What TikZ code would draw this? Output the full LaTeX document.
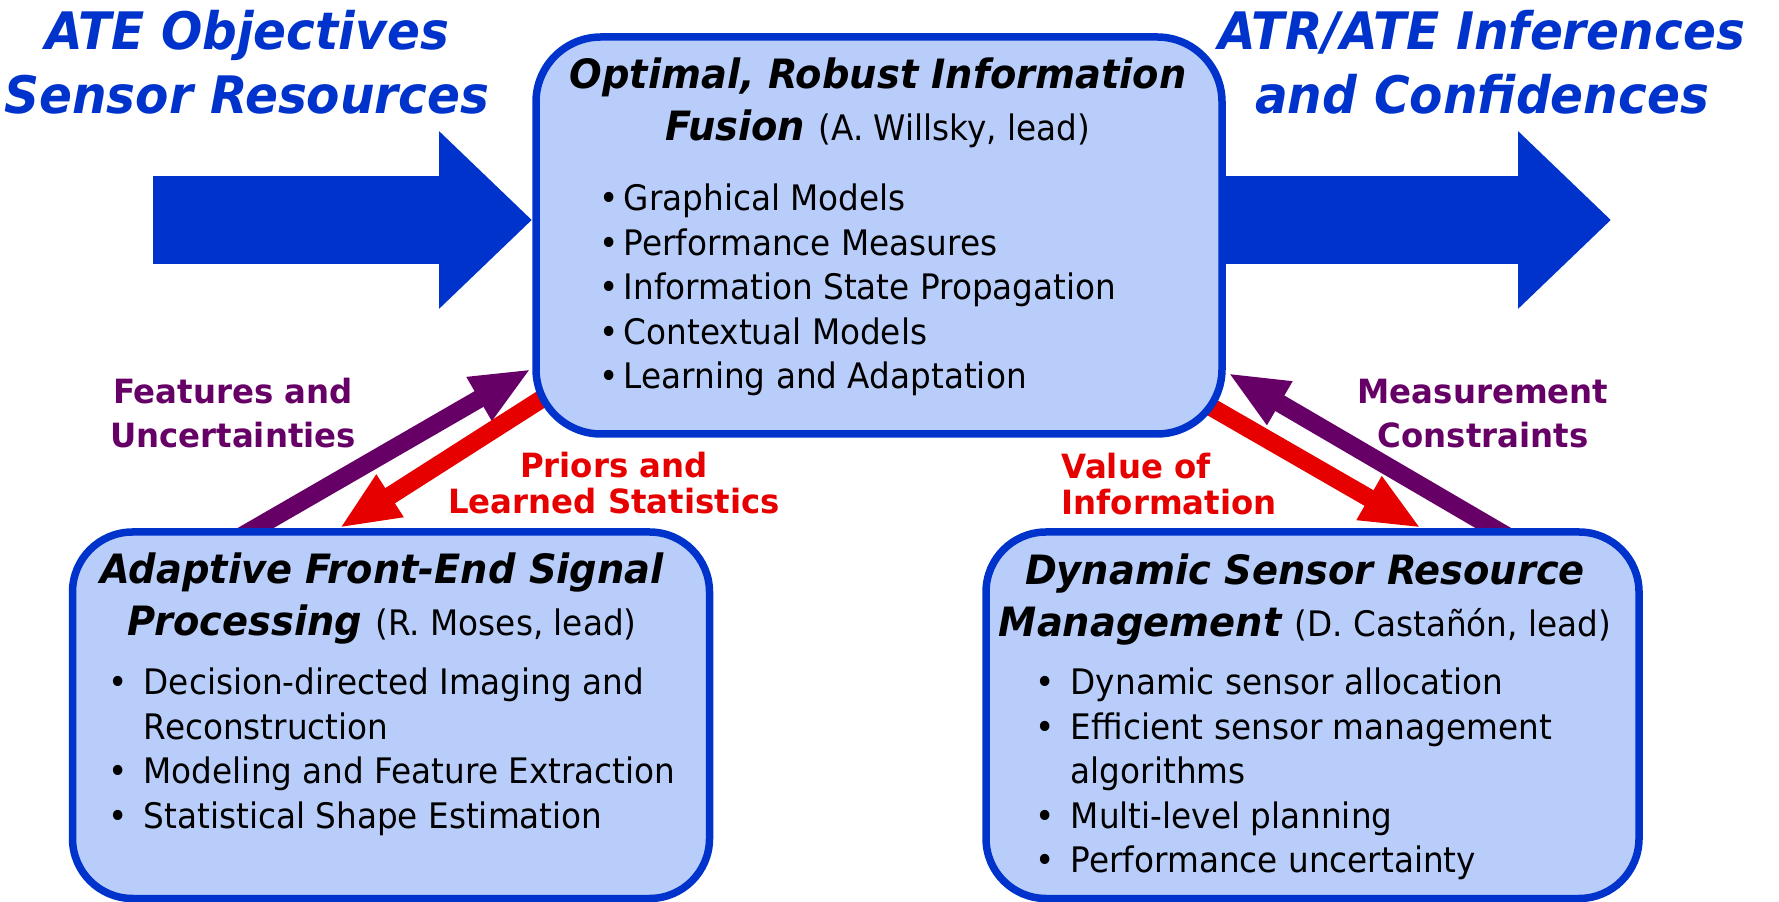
\documentclass[tikz,border=0pt]{standalone}
\usepackage{fontspec}
\setmainfont{DejaVu Sans}[FakeStretch=0.93]
\newfontfamily\headfont{DejaVu Sans}[FakeStretch=0.95]
\newfontfamily\titlefont{DejaVu Sans}[FakeStretch=0.94]
\newfontfamily\labelfont{DejaVu Sans}[FakeStretch=0.97]
\usetikzlibrary{arrows.meta,backgrounds,calc}
\definecolor{ateblue}{RGB}{0,51,204}
\definecolor{boxblue}{RGB}{185,205,250}
\definecolor{fbpurple}{RGB}{102,0,102}
\definecolor{fbred}{RGB}{230,0,0}
\newcommand\who[1]{{\normalfont\fontsize{10}{14.8}\selectfont #1}}

\begin{document}
\begin{tikzpicture}[
    box/.style={draw=ateblue, fill=boxblue, line width=0.075cm, rounded corners=0.6cm, inner sep=0, outer sep=0},
    bigarrow/.style={ateblue, line width=0.88cm, -{Triangle[length=0.93cm,width=1.72cm]}},
    flow/.style={line width=0.18cm, -{Triangle[length=0.6cm,width=0.46cm]}},
    title/.style={ateblue, inner sep=0, align=center, font=\titlefont\bfseries\itshape\fontsize{14.7}{18}\selectfont},
    head/.style={inner sep=0, align=center, font=\headfont\bfseries\itshape\fontsize{11.5}{14.8}\selectfont},
    items/.style={inner sep=0, font=\fontsize{10}{12.65}\selectfont},
    tag/.style={inner sep=0, align=center, font=\labelfont\bfseries\fontsize{9.5}{12.5}\selectfont},
    tagtight/.style={tag, font=\labelfont\bfseries\fontsize{9.5}{10.2}\selectfont}
]
    \useasboundingbox (0,0) rectangle (17.79,9.01);

    \node[box, minimum width=6.86cm, minimum height=3.97cm, rounded corners=0.65cm] (fusion) at (8.79,6.655) {};
    \node[box, minimum width=6.37cm, minimum height=3.665cm] (frontend) at (3.91,1.8575) {};
    \node[box, minimum width=6.53cm, minimum height=3.665cm] (sensormgmt) at (13.125,1.8575) {};

    \node[title, anchor=north] (goals) at (2.47,8.91) {ATE Objectives\\Sensor Resources};
    \node[title, anchor=north] (results) at (14.82,8.91) {ATR/ATE Inferences\\and Confidences};

    \node[head, anchor=north] (fusionhead) at (8.78,8.44) {Optimal, Robust Information\\Fusion \who{(A. Willsky, lead)}};
    \node[items, anchor=base west] (fusionlist) at (5.985,6.90) {\begin{tabular}[t]{@{}l@{\hspace{1.5pt}}l@{}}
        \textbullet & Graphical Models\\
        \textbullet & Performance Measures\\
        \textbullet & Information State Propagation\\
        \textbullet & Contextual Models\\
        \textbullet & Learning and Adaptation
    \end{tabular}};

    \node[head, anchor=north] (fehead) at (3.82,3.49) {Adaptive Front-End Signal\\Processing \who{(R. Moses, lead)}};
    \node[items, anchor=base west] (felist) at (1.08,2.06) {\begin{tabular}[t]{@{}l@{\hspace{4.5pt}}l@{}}
        \textbullet & Decision-directed Imaging and\\
                    & Reconstruction\\
        \textbullet & Modeling and Feature Extraction\\
        \textbullet & Statistical Shape Estimation
    \end{tabular}};

    \node[head, anchor=north] (smhead) at (13.05,3.48) {Dynamic Sensor Resource\\Management \who{(D. Castañón, lead)}};
    \node[items, anchor=base west] (smlist) at (10.35,2.06) {\begin{tabular}[t]{@{}l@{\hspace{4.5pt}}l@{}}
        \textbullet & Dynamic sensor allocation\\
        \textbullet & Efficient sensor management\\
                    & algorithms\\
        \textbullet & Multi-level planning\\
        \textbullet & Performance uncertainty
    \end{tabular}};

    \node[tag, fbpurple, anchor=north] (features) at (2.33,5.234) {Features and\\Uncertainties};
    \node[tag, fbpurple, anchor=north] (constraints) at (14.83,5.224) {Measurement\\Constraints};
    \node[tagtight, fbred, anchor=north] (priors) at (6.14,4.494) {Priors and\\Learned Statistics};
    \node[tagtight, fbred, anchor=north west, align=left] (value) at (10.61,4.484) {Value of\\Information};

    \begin{scope}[on background layer]
        \coordinate (in) at (1.53,6.81);
        \coordinate (out) at (16.11,6.81);
        \draw[bigarrow] (in) -- ($(in -| fusion.west)+(-0.04,0)$);
        \draw[bigarrow] (out -| fusion.east) -- (out);
        \draw[flow, fbpurple] ([shift={(-1.665,-0.14)}]frontend.north) -- ([shift={(-0.05,0.65)}]fusion.south west);
        \draw[flow, fbred] ([shift={(0.37,0.55)}]fusion.south west) -- ([shift={(-0.515,0.04)}]frontend.north);
        \draw[flow, fbred] ([shift={(-0.37,0.42)}]fusion.south east) -- ([shift={(1.085,0.04)}]sensormgmt.north);
        \draw[flow, fbpurple] ([shift={(2.115,-0.14)}]sensormgmt.north) -- ([shift={(0.06,0.61)}]fusion.south east);
    \end{scope}
\end{tikzpicture}
\end{document}
